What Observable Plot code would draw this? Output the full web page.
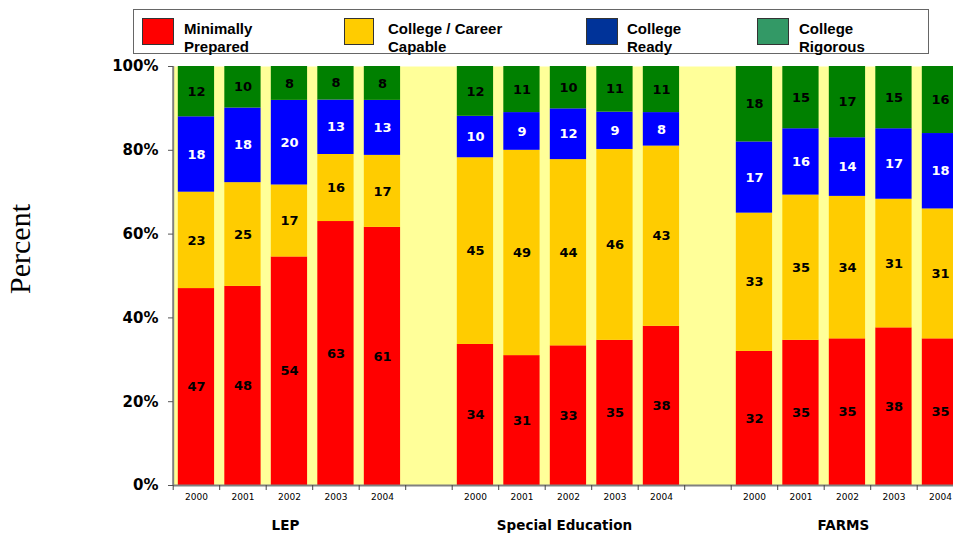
<!DOCTYPE html>
<html>
<head>
<meta charset="utf-8">
<script src="https://cdn.jsdelivr.net/npm/d3@7"></script>
<script src="https://cdn.jsdelivr.net/npm/@observablehq/plot@0.6"></script>
<style>
  html, body { margin: 0; padding: 0; background: #fff; overflow: hidden; }
  #wrap { position: relative; width: 953px; height: 535px; }
  #legend { position: relative; width: 953px; height: 60px; font-family: "Liberation Sans", Arial, sans-serif; }
  #legend .box { position: absolute; left: 133px; top: 9px; width: 796px; height: 45px; border: 1.5px solid #666; box-sizing: border-box; }
  #legend .sw { position: absolute; top: 18px; height: 27px; border: 1px solid #333; box-sizing: border-box; }
  #legend .lb { position: absolute; top: 20px; font-size: 15px; font-weight: bold; line-height: 18px; color: #000; }
  svg { display: block; }
</style>
</head>
<body>
<div id="wrap">
  <div id="legend"></div>
  <div id="chart"></div>
</div>
<script>
// ---- data ----
const groups = ["LEP", "Special Education", "FARMS"];
const years = ["2000", "2001", "2002", "2003", "2004"];
const categories = ["Minimally Prepared", "College / Career Capable", "College Ready", "College Rigorous"];
// values per bar: LEP 2000-2004, Special Education 2000-2004, FARMS 2000-2004
const minimallyPrepared    = [47, 48, 54, 63, 61,  34, 31, 33, 35, 38,  32, 35, 35, 38, 35];
const collegeCareerCapable = [23, 25, 17, 16, 17,  45, 49, 44, 46, 43,  33, 35, 34, 31, 31];
const collegeReady         = [18, 18, 20, 13, 13,  10,  9, 12,  9,  8,  17, 16, 14, 17, 18];
const collegeRigorous      = [12, 10,  8,  8,  8,  12, 11, 10, 11, 11,  18, 15, 17, 15, 16];
const yTicks = [0, 0.2, 0.4, 0.6, 0.8, 1];

// ---- styles ----
const barColors = ["#FF0000", "#FFCC00", "#0000FF", "#008000"];
const legendColors = ["#FF0000", "#FFCC00", "#003399", "#339966"];
const labelColors = ["#000", "#000", "#fff", "#000"];
const series = [minimallyPrepared, collegeCareerCapable, collegeReady, collegeRigorous];

// x slots: each group's years, with an empty slot between groups
const slots = [];
groups.forEach((g, gi) => {
  years.forEach(y => slots.push(`${g}|${y}`));
  if (gi < groups.length - 1) slots.push(`gap${gi}`);
});

const rows = [];
groups.forEach((g, gi) => {
  years.forEach((y, yi) => {
    const i = gi * years.length + yi;
    categories.forEach((c, ci) => rows.push({key: `${g}|${y}`, cat: c, ci, value: series[ci][i]}));
  });
});

// ---- legend (HTML) ----
const legend = document.getElementById("legend");
legend.innerHTML = `<div class="box"></div>`;
const legendItems = [
  {sw: 142, w: 32, tx: 184, lines: ["Minimally", "Prepared"]},
  {sw: 344, w: 30, tx: 388, lines: ["College / Career", "Capable"]},
  {sw: 586, w: 32, tx: 627, lines: ["College", "Ready"]},
  {sw: 757, w: 32, tx: 799, lines: ["College", "Rigorous"]}
];
legendItems.forEach((it, i) => {
  const s = document.createElement("div");
  s.className = "sw";
  s.style.left = it.sw + "px";
  s.style.width = it.w + "px";
  s.style.background = legendColors[i];
  legend.appendChild(s);
  const t = document.createElement("div");
  t.className = "lb";
  t.style.left = it.tx + "px";
  t.innerHTML = it.lines.join("<br>");
  legend.appendChild(t);
});

// ---- chart ----
const xRange = [172.7, 963.2];
const step = (xRange[1] - xRange[0]) / slots.length;
const yearOf = k => (k.includes("|") ? k.split("|")[1] : "");

const chart = Plot.plot({
  width: 953,
  height: 475,
  marginTop: 6,
  marginBottom: 50,
  marginLeft: 173,
  marginRight: 0,
  style: {background: "transparent", overflow: "visible"},
  x: {domain: slots, range: xRange, paddingInner: 0.22, paddingOuter: 0.11, round: false},
  y: {domain: [0, 1]},
  color: {type: "identity"},
  marks: [
    Plot.frame({fill: "#FFFF99", stroke: null}),
    Plot.barY(rows, {x: "key", y: "value", z: "cat", offset: "normalize", fill: d => barColors[d.ci]}),
    Plot.text(rows, Plot.stackY({
      x: "key", y: "value", z: "cat", offset: "normalize",
      text: d => String(d.value),
      fill: d => labelColors[d.ci],
      fontFamily: "DejaVu Sans", fontWeight: "bold", fontSize: 13
    })),
    Plot.ruleY([0], {stroke: "#808080", strokeWidth: 2}),
    Plot.ruleX([slots[0]], {dx: -step / 2, stroke: "#808080", strokeWidth: 2}),
    Plot.axisY({
      ticks: yTicks, tickFormat: d => Math.round(d * 100) + "%",
      tickSize: 5, tickPadding: 10, stroke: "#555", label: null,
      fontFamily: "DejaVu Sans", fontWeight: "bold", fontSize: 15, fill: "#000"
    }),
    Plot.axisX({
      tickSize: 0, tickPadding: 8, tickFormat: yearOf, label: null,
      fontFamily: "DejaVu Sans", fontSize: 9, fill: "#000"
    }),
    Plot.axisX({
      tickSize: 5, tickFormat: () => "", label: null, dx: -step / 2, stroke: "#444"
    }),
    Plot.text(groups, {
      x: g => `${g}|${years[2]}`, frameAnchor: "bottom", lineAnchor: "middle", dx: -4, dy: 40, text: d => d,
      fontFamily: "DejaVu Sans", fontWeight: "bold", fontSize: 13.5, fill: "#000"
    }),
    Plot.text(["Percent"], {
      frameAnchor: "left", textAnchor: "middle", lineAnchor: "middle", text: d => d, rotate: -90,
      dx: -153, dy: -27,
      fontFamily: "Liberation Serif", fontSize: 30, fill: "#000"
    })
  ]
});
document.getElementById("chart").appendChild(chart);
</script>
</body>
</html>
